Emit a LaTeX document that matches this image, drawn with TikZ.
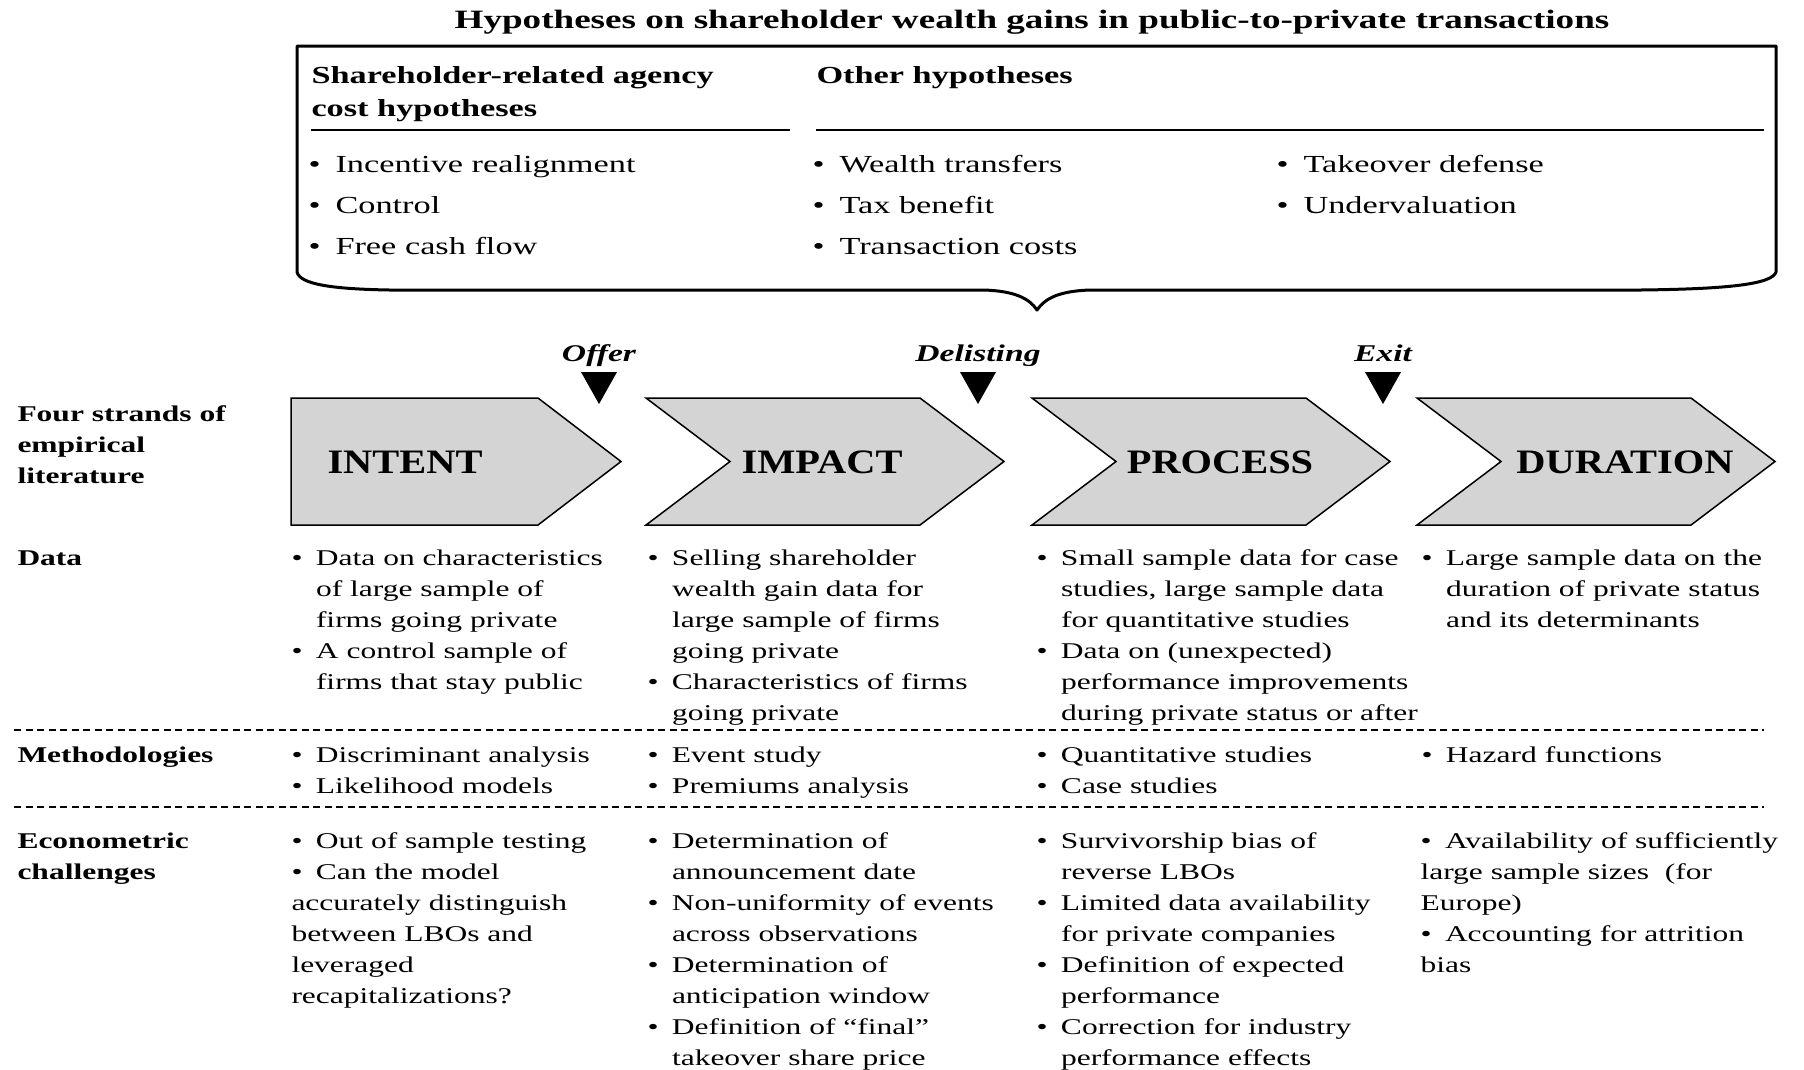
\documentclass[tikz,border=0pt]{standalone}
\usepackage{fontspec}
\setmainfont[FakeStretch=1.4]{Liberation Serif}
\newfontfamily\chevfont[FakeStretch=1.18]{Liberation Serif}
\usetikzlibrary{positioning}
\newcommand{\bodyfont}{\fontsize{9}{12.4}\selectfont}
\newcommand{\boxfont}{\fontsize{9.8}{16.4}\selectfont}
\newcommand{\headfont}{\fontsize{9.8}{13.4}\selectfont\bfseries}
\newcommand{\titlefont}{\fontsize{10.6}{13}\selectfont\bfseries}
\newcommand{\milefont}{\fontsize{9.6}{12}\selectfont\bfseries\itshape}
\newcommand{\stagefont}{\chevfont\fontsize{13.7}{16}\selectfont\bfseries}
\newcommand{\itm}{\makebox[9.8pt][l]{\textbullet}}
\newcommand{\cnt}{\hspace*{9.8pt}}
\newcommand{\hitm}{\makebox[10.8pt][l]{\textbullet}}
\tikzset{cell/.style={anchor=north west,inner sep=0pt,align=left,font=\bodyfont},
rowlabel/.style={cell,font=\bodyfont\bfseries},
hyp/.style={cell,font=\boxfont},
hyphead/.style={cell,font=\headfont},
stage/.style={draw=black,fill=black!17,line width=0.6pt},
stagelabel/.style={anchor=base,inner sep=0pt,font=\stagefont},
milestone/.style={anchor=base,inner sep=0pt,font=\milefont},
flag/.style={fill=black},
hline/.style={line width=0.7pt},
dashline/.style={line width=0.6pt,dash pattern=on 2.8pt off 1.8pt},
hypframe/.style={line width=1.2pt,line join=round}}

\begin{document}
\begin{tikzpicture}[x=0.4pt,y=-0.4pt]
  \useasboundingbox (0,0) rectangle (1804,1069);
  \node (title) [anchor=base,inner sep=0pt,font=\titlefont] at (1032,28)
    {Hypotheses on shareholder wealth gains in public-to-private transactions};

  \draw [hypframe] (297,46) -- (1776,46) -- (1776,272)
    .. controls (1772,284) and (1730,289) .. (1640,290) -- (1090,290)
    .. controls (1060,291) and (1045,298) .. (1037,310)
    .. controls (1029,298) and (1014,291) .. (984,290) -- (390,290)
    .. controls (330,289) and (300,284) .. (297,272) -- cycle;

  \node (agency) [hyphead] at (311,59.5) {\strut Shareholder-related agency\\cost hypotheses};
  \node (other) [hyphead] at (816,59.5) {\strut Other hypotheses};
  \draw [hline] (311,130) -- (790,130);
  \draw [hline] (816,130) -- (1764,130);
  \node (agency1) [hyp] at (308,143.3) {\strut\hitm Incentive realignment\\\hitm Control\\\hitm Free cash flow};
  \node (other1) [hyp] at (812,143.3) {\strut\hitm Wealth transfers\\\hitm Tax benefit\\\hitm Transaction costs};
  \node (other2) [hyp] at (1276,143.3) {\strut\hitm Takeover defense\\\hitm Undervaluation};

  \node (offer) [milestone] at (599,361) {Offer};
  \node (delist) [milestone] at (978,361) {Delisting};
  \node (exit) [milestone] at (1383,361) {Exit};
  \fill [flag] (581,372) -- (617,372) -- (599,404) -- cycle;
  \fill [flag] (960,372) -- (996,372) -- (978,404) -- cycle;
  \fill [flag] (1365,372) -- (1401,372) -- (1383,404) -- cycle;

  \draw [stage] (291,398) -- (538,398) -- (621,461.5) -- (538,525) -- (291,525) -- cycle;
  \draw [stage] (646,398) -- (920,398) -- (1004,461.5) -- (920,525) -- (646,525) -- (730,461.5) -- cycle;
  \draw [stage] (1032,398) -- (1306,398) -- (1390,461.5) -- (1306,525) -- (1032,525) -- (1116,461.5) -- cycle;
  \draw [stage] (1417,398) -- (1691,398) -- (1775,461.5) -- (1691,525) -- (1417,525) -- (1501,461.5) -- cycle;
  \node (intent) [stagelabel] at (405,473) {INTENT};
  \node (impact) [stagelabel] at (822,473) {IMPACT};
  \node (process) [stagelabel] at (1220,473) {PROCESS};
  \node (duration) [stagelabel] at (1625,473) {DURATION};

  \node (strands) [rowlabel] at (17,399.3) {\strut Four strands of\\empirical\\literature};
  \node (data) [rowlabel] at (17,543.3) {\strut Data};
  \node (meth) [rowlabel] at (17,740.3) {\strut Methodologies};
  \node (econ) [rowlabel] at (17,826.3) {\strut Econometric\\challenges};

  \node (data1) [cell] at (291,543.3) {\strut\itm Data on characteristics\\\cnt of large sample of\\\cnt firms going private\\\itm A control sample of\\\cnt firms that stay public};
  \node (data2) [cell] at (647,543.3) {\strut\itm Selling shareholder\\\cnt wealth gain data for\\\cnt large sample of firms\\\cnt going private\\\itm Characteristics of firms\\\cnt going private};
  \node (data3) [cell] at (1036,543.3) {\strut\itm Small sample data for case\\\cnt studies, large sample data\\\cnt for quantitative studies\\\itm Data on (unexpected)\\\cnt performance improvements\\\cnt during private status or after};
  \node (data4) [cell] at (1421,543.3) {\strut\itm Large sample data on the\\\cnt duration of private status\\\cnt and its determinants};

  \draw [dashline] (14,730) -- (1764,730);

  \node (meth1) [cell] at (291,740.3) {\strut\itm Discriminant analysis\\\itm Likelihood models};
  \node (meth2) [cell] at (647,740.3) {\strut\itm Event study\\\itm Premiums analysis};
  \node (meth3) [cell] at (1036,740.3) {\strut\itm Quantitative studies\\\itm Case studies};
  \node (meth4) [cell] at (1421,740.3) {\strut\itm Hazard functions};

  \draw [dashline] (14,807) -- (1764,807);

  \node (econ1) [cell] at (291,826.3) {\strut\itm Out of sample testing\\\itm Can the model\\accurately distinguish\\between LBOs and\\leveraged\\recapitalizations?};
  \node (econ2) [cell] at (647,826.3) {\strut\itm Determination of\\\cnt announcement date\\\itm Non-uniformity of events\\\cnt across observations\\\itm Determination of\\\cnt anticipation window\\\itm Definition of “final”\\\cnt takeover share price};
  \node (econ3) [cell] at (1036,826.3) {\strut\itm Survivorship bias of\\\cnt reverse LBOs\\\itm Limited data availability\\\cnt for private companies\\\itm Definition of expected\\\cnt performance\\\itm Correction for industry\\\cnt performance effects};
  \node (econ4) [cell] at (1420,826.3) {\strut\itm Availability of sufficiently\\large sample sizes\ \ (for\\Europe)\\\itm Accounting for attrition\\bias};
\end{tikzpicture}
\end{document}
